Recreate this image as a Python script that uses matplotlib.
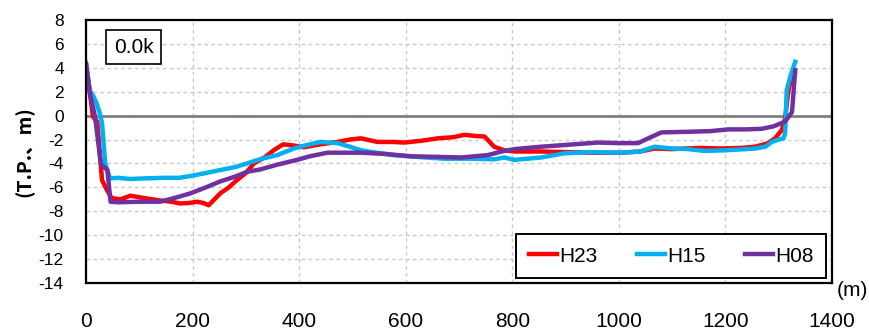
import matplotlib
matplotlib.use("Agg")
import matplotlib.pyplot as plt
import matplotlib.ticker as ticker

plt.rcParams['font.family'] = ['Liberation Sans', 'DejaVu Sans']
plt.rcParams['axes.unicode_minus'] = False

# cross-section 0.0k, ground level (T.P. m) against distance (m)
h23_x = [0, 7, 13, 21, 30, 39, 48, 65, 83, 110, 139, 160, 177, 195, 208, 220, 230, 241, 252,
         268, 283, 300, 315, 335, 352, 370, 390, 409, 440, 472, 495, 516, 547, 575, 597,
         630, 660, 690, 710, 730, 748, 766, 785, 804, 854, 900, 950, 1005, 1040, 1067,
         1100, 1150, 1193, 1230, 1256, 1280, 1293, 1306, 1312, 1318, 1325, 1330]
h23_y = [4.3, 2.0, -0.1, -0.5, -5.4, -6.2, -6.9, -7.0, -6.7, -6.9, -7.1, -7.2, -7.35, -7.3,
         -7.2, -7.3, -7.5, -7.0, -6.5, -6.0, -5.4, -4.8, -4.0, -3.5, -2.9, -2.4, -2.5,
         -2.65, -2.4, -2.2, -2.0, -1.9, -2.2, -2.2, -2.25, -2.1, -1.9, -1.8, -1.6, -1.7,
         -1.75, -2.6, -2.9, -3.0, -3.0, -3.05, -3.1, -3.1, -3.0, -2.75, -2.8, -2.7, -2.75,
         -2.7, -2.6, -2.3, -1.9, -1.2, -0.2, 2.0, 3.5, 3.6]

h15_x = [0, 7, 14, 20, 25, 30, 36, 45, 60, 83, 110, 146, 175, 196, 225, 252, 280, 302,
         330, 359, 390, 415, 440, 472, 495, 516, 545, 578, 620, 672, 720, 766, 785, 804,
         854, 898, 950, 1005, 1040, 1067, 1100, 1130, 1161, 1200, 1256, 1275, 1287, 1300,
         1309, 1312, 1315, 1322, 1331]
h15_y = [4.4, 2.1, 1.6, 1.0, 0.3, -0.6, -4.0, -5.25, -5.2, -5.3, -5.25, -5.2, -5.2,
         -5.05, -4.8, -4.55, -4.3, -4.0, -3.6, -3.3, -2.75, -2.45, -2.2, -2.3, -2.6, -2.9,
         -3.1, -3.3, -3.45, -3.6, -3.6, -3.65, -3.5, -3.7, -3.5, -3.15, -3.05, -3.1, -3.0,
         -2.6, -2.75, -2.8, -2.95, -2.9, -2.75, -2.6, -2.2, -2.0, -1.9, -1.5, 2.1, 3.3, 4.5]

h08_x = [0, 7, 17, 28, 40, 46, 60, 100, 139, 165, 196, 225, 252, 280, 302, 327, 359,
         396, 420, 453, 516, 560, 610, 660, 704, 754, 780, 804, 854, 900, 961, 1000,
         1036, 1055, 1080, 1130, 1170, 1206, 1240, 1268, 1290, 1312, 1325, 1331]
h08_y = [4.3, 1.9, -0.1, -4.1, -4.55, -7.2, -7.25, -7.2, -7.2, -6.9, -6.5, -6.0, -5.5,
         -5.1, -4.7, -4.5, -4.1, -3.7, -3.4, -3.1, -3.1, -3.2, -3.4, -3.45, -3.5, -3.3,
         -3.0, -2.8, -2.6, -2.45, -2.25, -2.3, -2.3, -1.9, -1.4, -1.35, -1.3, -1.15,
         -1.15, -1.1, -0.9, -0.5, 0.3, 3.8]

series = [('H23', h23_x, h23_y, '#FF0000'),
          ('H15', h15_x, h15_y, '#00B0F0'),
          ('H08', h08_x, h08_y, '#7030A0')]

x_ticks = [0, 200, 400, 600, 800, 1000, 1200, 1400]
y_ticks = [8, 6, 4, 2, 0, -2, -4, -6, -8, -10, -12, -14]

fig = plt.figure(figsize=(8.7, 3.34), dpi=100)
ax = fig.add_axes([0.0989, 0.1527, 0.8574, 0.7874])

ax.set_xlim(0, 1400)
ax.set_ylim(-14, 8)
ax.xaxis.set_major_locator(ticker.FixedLocator(x_ticks))
ax.yaxis.set_major_locator(ticker.FixedLocator(y_ticks))

# grid
ax.grid(True, color='#c8c8c8', ls=(0, (2.5, 2.5)), lw=1.0)
ax.set_axisbelow(True)
ax.axhline(0, color='#808080', lw=2.0, zorder=1.5)

for s in ax.spines.values():
    s.set_linewidth(1.6)
    s.set_color('black')

ax.tick_params(axis='both', length=0)
ax.tick_params(axis='x', labelsize=15, pad=21)
ax.tick_params(axis='y', labelsize=12.5, pad=16)

for name, xs, ys, col in series:
    ax.plot(xs, ys, color=col, lw=3.2, label=name, solid_joinstyle='round')

leg = ax.legend(loc='lower right', bbox_to_anchor=(0.992, 0.019), ncol=3,
                fontsize=15, frameon=True, fancybox=False, framealpha=1,
                handlelength=1.35, handletextpad=0.1, columnspacing=1.9,
                borderpad=0.6, borderaxespad=0)
leg.get_frame().set_edgecolor('black')
leg.get_frame().set_linewidth(1.4)

ax.text(0.0637, 0.897, '0.0k', transform=ax.transAxes, fontsize=15,
        ha='center', va='center',
        bbox=dict(boxstyle='square,pad=0.35', fc='white', ec='black', lw=1.2))

fig.text(25 / 870, 1 - 152 / 334, '(T.P.、m)', rotation=90, ha='center', va='center',
         fontsize=14, fontweight='bold', family=['Noto Sans CJK JP', 'DejaVu Sans'])
fig.text(868 / 870, 1 - 291 / 334, '(m)', ha='right', va='center', fontsize=15)

fig.savefig('out.png', dpi=100)
